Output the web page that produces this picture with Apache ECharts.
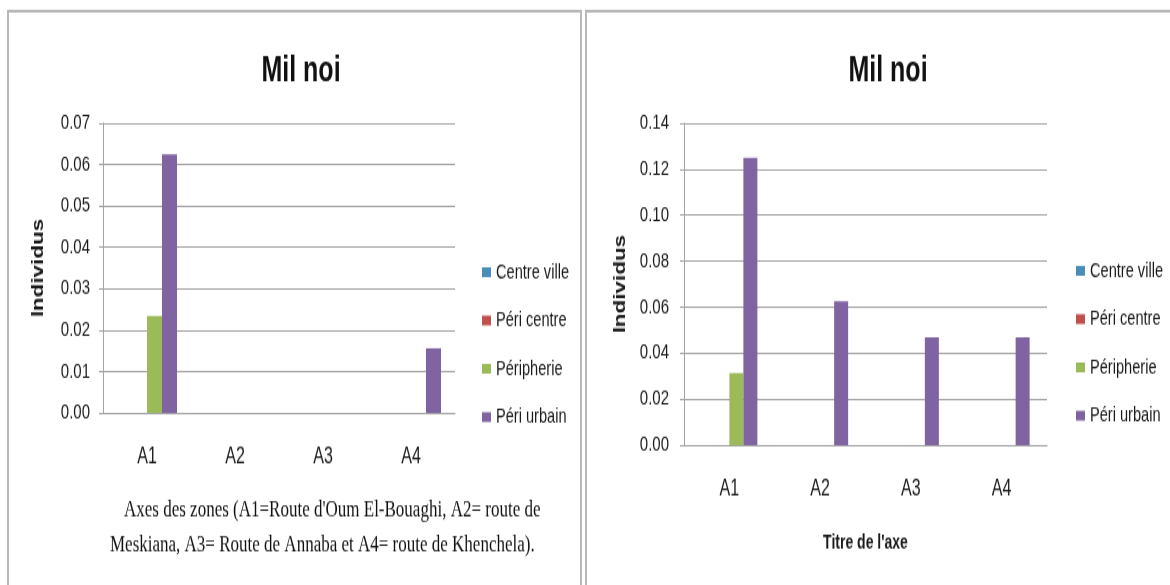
<!DOCTYPE html>
<html>
<head>
<meta charset="utf-8">
<script src="https://cdn.jsdelivr.net/npm/echarts@6/dist/echarts.min.js"></script>
<style>
html,body{margin:0;padding:0;background:#fff;overflow:hidden;}
#wrap{width:1170px;height:585px;overflow:hidden;}
#chart{width:1170px;height:418px;transform-origin:0 0;transform:scaleY(1.39952);}
</style>
</head>
<body>
<div id="wrap"><div id="chart"></div></div>
<script>
// ---- data ----
const categories = ['A1', 'A2', 'A3', 'A4'];
const seriesNames = ['Centre ville', 'Péri centre', 'Péripherie', 'Péri urbain'];

const leftCentreVille = [0, 0, 0, 0];
const leftPeriCentre  = [0, 0, 0, 0];
const leftPeripherie  = [0.0234, 0, 0, 0];
const leftPeriUrbain  = [0.0625, 0, 0, 0.0156];

const rightCentreVille = [0, 0, 0, 0];
const rightPeriCentre  = [0, 0, 0, 0];
const rightPeripherie  = [0.0313, 0, 0, 0];
const rightPeriUrbain  = [0.125, 0.0625, 0.0469, 0.0469];

const chartTitle = 'Mil noi';
const yAxisName = 'Individus';
const rightXAxisName = "Titre de l'axe";
const captionLine1 = "Axes des zones (A1=Route d'Oum El-Bouaghi, A2= route de";
const captionLine2 = "Meskiana, A3= Route de Annaba et A4= route de Khenchela).";

// ---- styling ----
const colors = ['#4A8DBA', '#C0504D', '#9BBB59', '#8064A2'];
const SANS = "'Liberation Sans', Arial, sans-serif";
const gridColor = '#a3a3a3';
const textColor = '#1a1a1a';

const leftData = [leftCentreVille, leftPeriCentre, leftPeripherie, leftPeriUrbain];
const rightData = [rightCentreVille, rightPeriCentre, rightPeripherie, rightPeriUrbain];

function yAxis(gridIndex, max, interval, nameGap, labelMargin) {
  return {
    type: 'value', gridIndex, min: 0, max, interval,
    name: yAxisName, nameLocation: 'middle', nameRotate: 90, nameGap,
    nameTextStyle: { fontFamily: SANS, fontWeight: 'bold', fontSize: 16, color: textColor },
    axisLine: { show: true, lineStyle: { color: gridColor, width: 1 } },
    axisTick: { show: true, length: 4, lineStyle: { color: gridColor } },
    axisLabel: { formatter: v => v.toFixed(2), fontFamily: SANS, fontSize: 15, color: textColor, margin: labelMargin },
    splitLine: { show: true, lineStyle: { color: gridColor, width: 1.2 } }
  };
}
function xAxis(gridIndex, extra) {
  return Object.assign({
    type: 'category', gridIndex, data: categories,
    axisLine: { show: true, lineStyle: { color: gridColor, width: 1.2 } },
    axisTick: { show: false },
    axisLabel: { fontFamily: SANS, fontSize: 16, color: textColor, margin: 24 }
  }, extra || {});
}

const series = [];
[leftData, rightData].forEach((set, gi) => {
  set.forEach((vals, si) => {
    series.push({
      type: 'bar', name: seriesNames[si], xAxisIndex: gi, yAxisIndex: gi,
      data: vals, barWidth: gi === 0 ? 15 : 14, barGap: '0%',
      itemStyle: { color: colors[si] }
    });
  });
});

function legend(left, top) {
  return {
    data: seriesNames, orient: 'vertical', left, top, padding: 0,
    itemWidth: 9, itemHeight: 7, itemGap: 19.5, icon: 'rect',
    textStyle: { fontFamily: SANS, fontSize: 14.6, color: textColor },
    selectedMode: false
  };
}

const option = {
  animation: false,
  color: colors,
  title: [
    { text: chartTitle, left: 296, top: 34, textAlign: 'center',
      textStyle: { fontFamily: SANS, fontWeight: 'bold', fontSize: 25, color: '#111' } },
    { text: chartTitle, left: 883, top: 34, textAlign: 'center',
      textStyle: { fontFamily: SANS, fontWeight: 'bold', fontSize: 25, color: '#111' } }
  ],
  grid: [
    { left: 103, right: 715, top: 88, bottom: 123 },
    { left: 684, right: 123, top: 88, bottom: 100 }
  ],
  xAxis: [
    xAxis(0),
    xAxis(1, { name: rightXAxisName, nameLocation: 'middle', nameGap: 63,
      nameTextStyle: { fontFamily: SANS, fontWeight: 'bold', fontSize: 14, color: textColor } })
  ],
  yAxis: [ yAxis(0, 0.07, 0.01, 56, 13), yAxis(1, 0.14, 0.02, 55, 15) ],
  legend: [ legend(482, 187), legend(1076, 186) ],
  series,
  graphic: [
    { type: 'rect', shape: { x: 8, y: 7.9, width: 573, height: 450 }, style: { fill: 'none', stroke: '#b8b8b8', lineWidth: 2 }, silent: true },
    { type: 'rect', shape: { x: 586, y: 7.9, width: 620, height: 450 }, style: { fill: 'none', stroke: '#b8b8b8', lineWidth: 2 }, silent: true },
    { type: 'text', x: 124, y: 364.4, silent: true,
      style: { text: captionLine1, textAlign: 'left', textVerticalAlign: 'middle', fontFamily: "'Liberation Serif', serif", fontSize: 17, fill: '#111' } },
    { type: 'text', x: 110, y: 389.4, silent: true,
      style: { text: captionLine2, textAlign: 'left', textVerticalAlign: 'middle', fontFamily: "'Liberation Serif', serif", fontSize: 17, fill: '#111' } }
  ]
};

const chart = echarts.init(document.getElementById('chart'), null, { renderer: 'canvas', width: 1170, height: 418 });
chart.setOption(option);
</script>
</body>
</html>
